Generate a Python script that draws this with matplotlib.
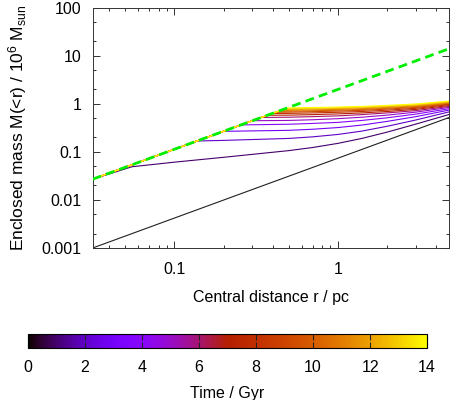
import numpy as np
import matplotlib
matplotlib.use("Agg")
import matplotlib.pyplot as plt
from matplotlib.colors import ListedColormap, Normalize
from matplotlib.cm import ScalarMappable
from matplotlib.ticker import LogLocator, FixedLocator, NullFormatter, FuncFormatter

plt.rcParams.update({'font.size': 11.5, 'font.family': ['Liberation Sans', 'DejaVu Sans'],
                     'mathtext.default': 'regular'})

# Axis range (pc)
r_min, r_max = 0.0316, 4.8

# Reference power laws (end points)
green_r = [0.0316, 4.8]
green_M = [0.027, 14.0]
black_r = [0.0316, 4.8]          # t = 0 profile
black_M = [0.001, 0.52]

# Profiles at later times
times = [1, 2, 3, 4, 5, 6, 7, 8, 9, 10, 11, 12, 13, 14]
r_break = [0.055, 0.137, 0.199, 0.255, 0.30, 0.34, 0.37, 0.395, 0.415, 0.43, 0.445, 0.46, 0.475, 0.49]
M_break = [0.049, 0.168, 0.267, 0.363, 0.444, 0.519, 0.577, 0.627, 0.665, 0.695, 0.725, 0.757, 0.787, 0.818]
r_out = [0.1, 0.2, 0.5, 0.7, 1.0, 1.4, 2.0, 3.0, 4.8]
nan = np.nan
M_out = [
    [0.061, 0.077, 0.106, 0.123, 0.150, 0.19, 0.257, 0.378, 0.60],
    [nan,   0.173, 0.19,  0.205, 0.23,  0.27, 0.34,  0.46,  0.68],
    [nan,   nan,   0.28,  0.295, 0.32,  0.36, 0.43,  0.54,  0.74],
    [nan,   nan,   0.375, 0.39,  0.41,  0.45, 0.51,  0.61,  0.79],
    [nan,   nan,   0.45,  0.465, 0.49,  0.525, 0.58, 0.67,  0.84],
    [nan,   nan,   0.525, 0.54,  0.56,  0.595, 0.645, 0.72, 0.88],
    [nan,   nan,   0.58,  0.595, 0.615, 0.645, 0.69, 0.765, 0.92],
    [nan,   nan,   0.63,  0.645, 0.665, 0.69, 0.735, 0.805, 0.96],
    [nan,   nan,   0.67,  0.685, 0.705, 0.73, 0.775, 0.84,  0.99],
    [nan,   nan,   0.70,  0.715, 0.735, 0.76, 0.805, 0.87,  1.02],
    [nan,   nan,   0.73,  0.745, 0.765, 0.79, 0.835, 0.90,  1.05],
    [nan,   nan,   0.76,  0.775, 0.795, 0.82, 0.865, 0.93,  1.08],
    [nan,   nan,   0.79,  0.805, 0.825, 0.85, 0.895, 0.96,  1.11],
    [nan,   nan,   0.82,  0.835, 0.855, 0.88, 0.925, 0.99,  1.14],
]

# gnuplot default palette (rgbformulae 7,5,15)
xx = np.linspace(0, 1, 256)
pal = np.column_stack([np.sqrt(xx), xx**3, np.clip(np.sin(2*np.pi*xx), 0, 1)])
cmap = ListedColormap(pal)
norm = Normalize(0, 14)

fig = plt.figure(figsize=(4.52, 4.0), dpi=100)
ax = fig.add_axes([0.205, 0.38, 0.789, 0.601])

ax.plot(black_r, black_M, color='#202020', lw=0.8)
for i, t in enumerate(times):
    rr = [green_r[0], r_break[i]]
    mm = [green_M[0], M_break[i]]
    for r, m in zip(r_out, M_out[i]):
        if not np.isnan(m):
            rr.append(r); mm.append(m)
    ax.plot(rr, mm, color=cmap(norm(t)), lw=0.8)
ax.plot(green_r, green_M, color='#00ee00', lw=2.0, dashes=(3.2, 1.9), zorder=5)

ax.set_xscale('log'); ax.set_yscale('log')
ax.set_xlim(r_min, r_max)
ax.set_ylim(0.001, 100)
ax.xaxis.set_major_locator(FixedLocator([0.1, 1]))
ax.xaxis.set_minor_locator(LogLocator(base=10, subs=np.arange(2, 10)))
ax.xaxis.set_minor_formatter(NullFormatter())
ax.yaxis.set_major_locator(FixedLocator([0.001, 0.01, 0.1, 1, 10, 100]))
ax.yaxis.set_minor_locator(LogLocator(base=10, subs=[2, 5]))
ax.yaxis.set_minor_formatter(NullFormatter())
fmt = FuncFormatter(lambda v, p: '%g' % v)
ax.xaxis.set_major_formatter(fmt)
ax.yaxis.set_major_formatter(fmt)
ax.tick_params(which='both', direction='in', top=True, right=True, color='#333333')
ax.tick_params(which='major', length=5, width=0.7)
ax.tick_params(which='minor', length=2.5, width=0.7)
ax.tick_params(axis='x', which='major', pad=10)
ax.tick_params(axis='y', which='major', pad=8)
for s in ax.spines.values():
    s.set_linewidth(0.7); s.set_color('#333333')
ax.set_xlabel('Central distance r / pc', labelpad=9.5)
ax.set_ylabel('Enclosed mass M(<r) / 10$^{6}$ M$_{sun}$', labelpad=9, fontsize=12.5)

cax = fig.add_axes([0.062, 0.13, 0.883, 0.035])
cb = fig.colorbar(ScalarMappable(norm=norm, cmap=cmap), cax=cax, orientation='horizontal')
cb.set_ticks(range(0, 15, 2))
cb.ax.tick_params(direction='in', top=True, bottom=True, length=4, width=0.8, pad=8.5, color='#222222')
cb.outline.set_linewidth(0.8)
cb.set_label('Time / Gyr', labelpad=8)

fig.savefig('out.png', dpi=100)
